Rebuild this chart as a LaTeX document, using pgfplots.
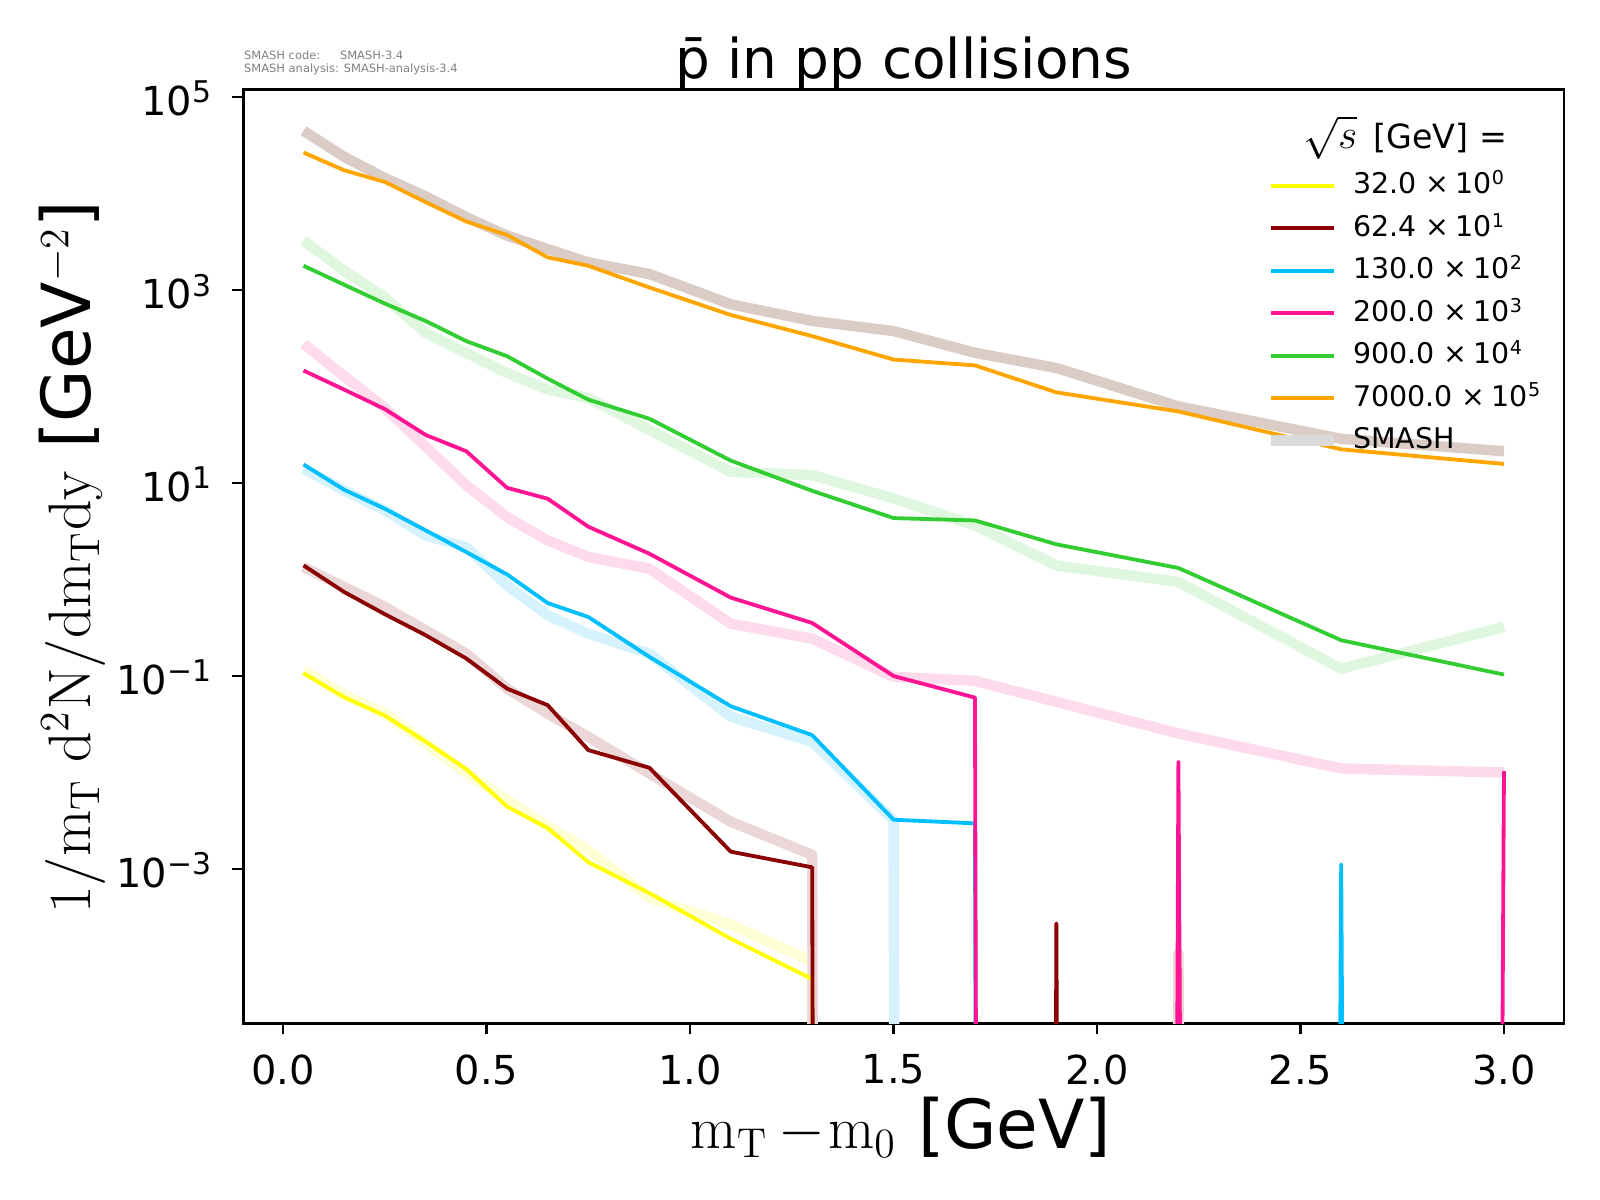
\documentclass[border=0pt]{standalone}
\usepackage[no-math]{fontspec}
\setmainfont{DejaVu Sans}
\usepackage{pgfplots}
\usepackage{pgfplotstable}
\pgfplotsset{compat=1.18}

\definecolor{cyel}{RGB}{255,255,0}
\definecolor{cdred}{RGB}{139,0,0}
\definecolor{cblue}{RGB}{0,191,255}
\definecolor{cpink}{RGB}{255,20,147}
\definecolor{cgreen}{RGB}{50,205,50}
\definecolor{corange}{RGB}{255,165,0}
\definecolor{syel}{RGB}{255,255,214}
\definecolor{sdred}{RGB}{235,215,215}
\definecolor{sblue}{RGB}{214,243,253}
\definecolor{spink}{RGB}{253,219,236}
\definecolor{sgreen}{RGB}{222,247,222}
\definecolor{sorange}{RGB}{219,205,198}
\definecolor{sgrey}{RGB}{218,218,218}
\definecolor{infogrey}{RGB}{128,128,128}

\newcommand{\tsup}[1]{\raisebox{3.6pt}{\fontsize{8.6}{9}\selectfont #1}}
\newcommand{\lsup}[1]{\smash{\raisebox{2.6pt}{\fontsize{5.5}{6}\selectfont #1}}}
\newcommand{\lmath}[1]{{\fontsize{18}{20}\selectfont$#1$}}

% zero values are written as 1e-300 (drawn as vertical drops, as in the reference)
\pgfplotstableread{
x     yel      dred     blue     pink     green    orange
0.05  0.107    1.403    15.6     146.9    1790     26730
0.15  0.0604   0.743    8.53     93.1     1138     17500
0.25  0.0389   0.437    5.42     58.5     726.1    13240
0.35  0.0209   0.265    3.24     31.6     479.7    8180
0.45  0.01084  0.152    1.928    21.4     296.5    5150
0.55  0.00444  0.0741   1.132    8.95     207.0    3740
0.65  0.00266  0.0499   0.571    6.89     121.1    2190
0.75  0.001175 0.01706  0.409    3.53     73.3     1790
0.9   5.62e-4  0.01119  0.158    1.854    46.5     1067
1.1   1.89e-4  0.00151  0.0486   0.650    17.1     553
1.3   7.24e-5  0.00104  0.0244   0.355    8.32     334
1.5   1e-300   1e-300   0.00324  0.100    4.34     191
1.7   1e-300   1e-300   0.00297  0.0598   4.10     166
1.9   1e-300   2.73e-4  1e-300   1e-300   2.32     87.3
2.2   1e-300   1e-300   1e-300   0.0129   1.318    55.3
2.6   1e-300   1e-300   0.00112  1e-300   0.235    22.4
3.0   1e-300   1e-300   1e-300   0.01033  0.1035   15.8
}\datatab

\pgfplotstableread{
x     yel      dred     blue     pink     green    orange
0.05  0.1153   1.349    14.06    278      3266     44980
0.15  0.0635   0.838    8.39     128.2    1589     24100
0.25  0.0411   0.520    5.21     60.0     839.5    14550
0.35  0.0201   0.298    2.87     23.9     362.2    9376
0.45  0.00984  0.171    2.17     9.53     224.4    5715
0.55  0.00521  0.0741   0.871    4.45     138.7    3681
0.65  0.00276  0.0408   0.427    2.55     93.1     2673
0.75  0.00158  0.0234   0.275    1.714    76.2     1941
0.9   5.0e-4   0.00977  0.171    1.297    35.6     1469
1.1   2.65e-4  0.00309  0.0378   0.349    13.1     714.5
1.3   1.1e-4   0.0014   0.0208   0.244    12.1     479.7
1.5   1e-300   1e-300   0.0032   0.0979   6.92     376.7
1.7   1e-300   1e-300   1e-300   0.0891   3.65     224.4
1.9   1e-300   1e-300   1e-300   0.0540   1.40     156.3
2.2   1e-300   1.33e-4  1e-300   0.0254   0.944    62.4
2.6   1e-300   1e-300   1e-300   0.0110   0.119    28.8
3.0   1e-300   1e-300   1e-300   0.0100   0.323    21.4
}\smashtab

\begin{document}
\begin{tikzpicture}
\useasboundingbox (-70.13pt,-50.89pt) rectangle (390.67pt,294.71pt);
\begin{axis}[
  at={(0pt,0pt)}, anchor=south west,
  scale only axis, width=380.3pt, height=268.9pt,
  xmin=-0.0975, xmax=3.1475,
  ymode=log, ymin=2.512e-5, ymax=1.2e5,
  clip mode=individual,
  xtick={0,0.5,1,1.5,2,2.5,3},
  xticklabels={0.0,0.5,1.0,1.5,2.0,2.5,3.0},
  ytick={1e-3,1e-1,1e1,1e3,1e5},
  yticklabels={10\tsup{−3},10\tsup{−1},10\tsup{1},10\tsup{3},10\tsup{5}},
  xminorticks=false, yminorticks=false,
  tick pos=left, tick align=outside, major tick length=3.2pt,
  every tick/.style={black, line width=0.7pt},
  axis line style={line width=0.7pt},
  tick label style={font=\fontsize{11.5}{13}\selectfont, inner sep=0pt},
  xticklabel style={anchor=north, yshift=-5.64pt},
  yticklabel style={anchor=east, xshift=-5.87pt, yshift=-0.4pt},
  title={p^^^^0304 in pp collisions},
  title style={at={(axis description cs:0.5,1)}, anchor=base, yshift=-2.92pt, inner sep=0pt, font=\fontsize{15.8}{18}\selectfont},
  xlabel={\lmath{\mathrm{m_T}\mkern3mu{-}\mkern1mu\mathrm{m_0}} [GeV]},
  ylabel={\lmath{\mathrm{1/m_T\;d^2N/dm_Tdy}} [GeV\lmath{^{-2}}]},
  label style={font=\fontsize{19.5}{22}\selectfont, inner sep=0pt},
  xlabel style={at={(axis description cs:0.4979,-0.1341)}, anchor=base},
  ylabel style={at={(axis description cs:-0.1162,0.499)}, anchor=base},
  no markers,
  every axis plot/.append style={line join=round},
  legend cell align=left,
  legend image code/.code={\draw[#1] (0pt,0pt) -- (18.1pt,0pt);},
  legend style={draw=none, fill=none, inner sep=0pt, outer sep=0pt,
    at={(axis description cs:0.7741,0.9109)}, anchor=north west,
    row sep=4.63pt, column sep=4.05pt,
    font=\fontsize{8.2}{9}\selectfont,
    nodes={inner sep=0pt, outer sep=0pt}},
]
% SMASH results (light, wide)
\addplot[syel,    line width=3pt, forget plot] table[x=x, y=yel]    {\smashtab};
\addplot[sdred,   line width=3pt, forget plot] table[x=x, y=dred]   {\smashtab};
\addplot[sblue,   line width=3pt, forget plot] table[x=x, y=blue]   {\smashtab};
\addplot[spink,   line width=3pt, forget plot] table[x=x, y=pink]   {\smashtab};
\addplot[sgreen,  line width=3pt, forget plot] table[x=x, y=green]  {\smashtab};
\addplot[sorange, line width=3pt, forget plot] table[x=x, y=orange] {\smashtab};
% data
\addplot[cyel,    line width=1.1pt] table[x=x, y=yel]    {\datatab};
\addlegendentry{32.0 ×\hspace{1.8pt}10\lsup{0}}
\addplot[cdred,   line width=1.1pt] table[x=x, y=dred]   {\datatab};
\addlegendentry{62.4 ×\hspace{1.8pt}10\lsup{1}}
\addplot[cblue,   line width=1.1pt] table[x=x, y=blue]   {\datatab};
\addlegendentry{130.0 ×\hspace{1.8pt}10\lsup{2}}
\addplot[cpink,   line width=1.1pt] table[x=x, y=pink]   {\datatab};
\addlegendentry{200.0 ×\hspace{1.8pt}10\lsup{3}}
\addplot[cgreen,  line width=1.1pt] table[x=x, y=green]  {\datatab};
\addlegendentry{900.0 ×\hspace{1.8pt}10\lsup{4}}
\addplot[corange, line width=1.1pt] table[x=x, y=orange] {\datatab};
\addlegendentry{7000.0 ×\hspace{1.8pt}10\lsup{5}}
\addlegendimage{sgrey, line width=3pt}
\addlegendentry{SMASH}
% legend title
\node[anchor=base, inner sep=0pt, font=\fontsize{9.6}{11}\selectfont] at (axis description cs:0.8798,0.9364)
  {{\fontsize{11.5}{13}\selectfont$\sqrt{s}$}\hspace{4.6pt}[GeV] =};
% version info
\node[anchor=base west, inner sep=0pt, text=infogrey, font=\fontsize{3.3}{4}\selectfont] at (axis description cs:0,1)
  [yshift=8.8pt] {\makebox[27.6pt][l]{SMASH code:}SMASH-3.4};
\node[anchor=base west, inner sep=0pt, text=infogrey, font=\fontsize{3.3}{4}\selectfont] at (axis description cs:0,1)
  [yshift=4.98pt] {SMASH analysis: SMASH-analysis-3.4};
\end{axis}
\end{tikzpicture}
\end{document}
